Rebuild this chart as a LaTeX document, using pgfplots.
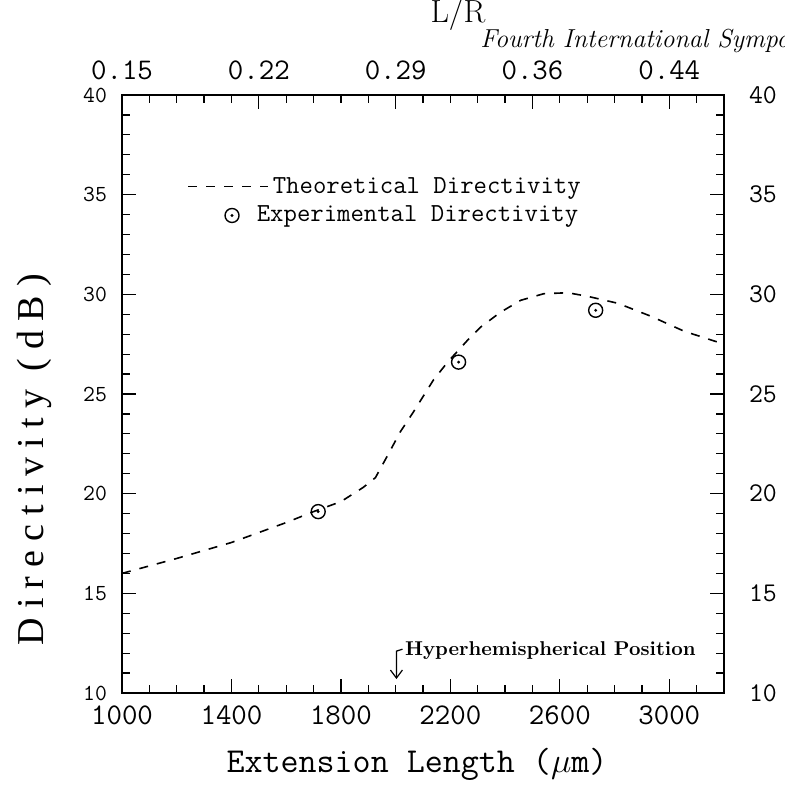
\documentclass[border=0pt]{standalone}
\usepackage{fontspec}
\usepackage{pgfplots}
\pgfplotsset{compat=1.18}
\usetikzlibrary{arrows.meta}
\newfontfamily\ylabfont[LetterSpace=24]{Liberation Serif}
\pgfdeclareplotmark{odot}{%
  \pgfpathcircle{\pgfpointorigin}{\pgfplotmarksize}\pgfusepathqstroke
  \pgfpathcircle{\pgfpointorigin}{0.8pt}\pgfusepathqfill}
\begin{document}
\begin{tikzpicture}[x=1pt,y=1pt]
\begin{axis}[name=main, at={(61pt,49.5pt)}, anchor=south west,
  scale only axis, width=301pt, height=299pt,
  xmin=1000, xmax=3200, ymin=10, ymax=40,
  xtick={1000,1400,...,3000}, minor xtick={1000,1100,...,3200},
  ytick={10,15,...,40}, minor ytick={10,11,...,40},
  xtick pos=bottom, ytick pos=both, yticklabel pos=left,
  tick align=inside, major tick length=7pt, minor tick length=4pt,
  tick style={line width=0.6pt, black},
  axis line style={line width=0.9pt},
  /pgf/number format/assume math mode=true,
  /pgf/number format/set thousands separator={},
  xticklabel style={font=\fontsize{15}{15}\selectfont\ttfamily, yshift=-3pt},
  yticklabel style={font=\fontsize{11.5}{12}\selectfont\ttfamily, xshift=-4pt},
  xlabel={Extension Length ($\mu$m)},
  xlabel style={font=\fontsize{17.5}{18}\selectfont\ttfamily, at={(axis description cs:0.49,-0.12)}, anchor=center},
  ylabel={\ylabfont Directivity (dB)},
  ylabel style={font=\fontsize{19}{20}\selectfont, at={(axis description cs:-0.145,0.39)}, anchor=center},
  legend style={draw=none, fill=none, at={(axis cs:1215,36.3)}, anchor=north west,
    font=\fontsize{13}{14}\selectfont\ttfamily, row sep=1pt},
  legend cell align=left,
  clip=false,
]
\addplot[black, line width=0.8pt, dash pattern=on 4.5pt off 4.5pt,
  legend image code/.code={\draw[black, line width=0.8pt, dash pattern=on 4.5pt off 4.5pt] (0pt,0pt) -- (40pt,0pt);}]
coordinates {
(1000,16.0) (1200,16.75) (1400,17.55) (1600,18.55) (1700,19.1) (1800,19.6)
(1880,20.3) (1926,20.8) (1970,21.9) (2017,23.1) (2065,24.1) (2138,25.7)
(2190,26.6) (2263,27.7) (2310,28.35) (2383,29.1) (2457,29.7) (2541,30.03)
(2629,30.08) (2702,29.9) (2812,29.55) (2933,28.9) (3054,28.15) (3200,27.5)
};
\addlegendentry{Theoretical Directivity}
\addplot[black, only marks, mark=odot, mark size=3.5pt, line width=0.7pt,
  legend image code/.code={\path[draw=none] (0pt,0pt) -- (40pt,0pt); \path[draw=none] plot[mark=odot, mark size=3.5pt, mark options={draw=black, fill=black, line width=0.7pt}] coordinates {(22pt,0pt)};}]
coordinates {(1717,19.1) (2230,26.6) (2731,29.2)};
\addlegendentry{\hspace*{-8pt}Experimental Directivity}
\draw[-{Straight Barb[length=4pt,width=6pt]}, line width=0.6pt] (axis cs:2025,12.2) -- (axis cs:2003,12.1) -- (axis cs:2003,10.7);
\node[anchor=west, font=\fontsize{10}{10}\selectfont\bfseries, inner sep=0pt] at (axis cs:2033,12.15) {Hyperhemispherical Position};
\end{axis}
\begin{axis}[at={(61pt,49.5pt)}, anchor=south west,
  scale only axis, width=301pt, height=299pt,
  xmin=0, xmax=22, ymin=10, ymax=40,
  axis x line*=top, hide y axis,
  axis line style={draw=none},
  xtick={0,5,10,15,20}, xticklabels={0.15,0.22,0.29,0.36,0.44},
  minor xtick={0,1,...,22},
  tick align=inside, major tick length=7pt, minor tick length=4pt,
  tick style={line width=0.6pt, black},
  xticklabel style={font=\fontsize{15}{15}\selectfont\ttfamily, yshift=4pt},
]
\addplot[draw=none] coordinates {(0,10)};
\end{axis}
\begin{axis}[at={(61pt,49.5pt)}, anchor=south west,
  scale only axis, width=301pt, height=299pt,
  xmin=0, xmax=1, ymin=10, ymax=40,
  axis y line*=right, hide x axis,
  axis line style={draw=none},
  ytick={10,15,...,40}, major tick length=0pt,
  /pgf/number format/assume math mode=true,
  yticklabel style={font=\fontsize{13.5}{14}\selectfont\ttfamily, xshift=9pt},
]
\addplot[draw=none] coordinates {(0,10)};
\end{axis}
\node[font=\fontsize{16}{16}\selectfont] at (229,388.5) {L/R};
\node[anchor=base west, font=\fontsize{13}{13}\selectfont\itshape\addfontfeature{LetterSpace=6}, inner sep=0pt] at (240,372) {Fourth International Symposium};
\pgfresetboundingbox
\useasboundingbox (0,0) rectangle (392.5,396);
\end{tikzpicture}
\end{document}
